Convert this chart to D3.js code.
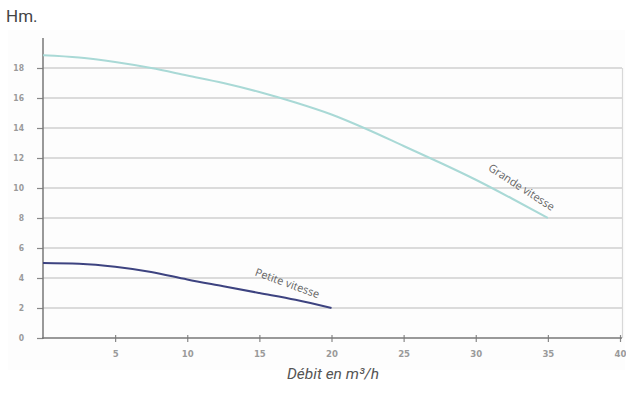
<!DOCTYPE html>
<html><head><meta charset="utf-8">
<script src="https://cdn.jsdelivr.net/npm/d3@7"></script>
<style>body{margin:0;background:#fff}svg{display:block}</style>
</head><body>
<svg id="c" width="626" height="398"></svg>
<script>
const flowGrande = [0, 2.5, 5, 7.5, 10, 12.5, 15, 17.5, 20, 22.5, 25, 27.5, 30, 32.5, 35];
const headGrande = [18.85, 18.7, 18.4, 18.0, 17.5, 17.0, 16.4, 15.7, 14.9, 13.9, 12.8, 11.7, 10.55, 9.3, 8.0];
const flowPetite = [0, 2.5, 5, 7.5, 10, 12.5, 15, 17.5, 20];
const headPetite = [5.0, 4.95, 4.75, 4.4, 3.9, 3.45, 3.0, 2.55, 2.0];
const xTicks = [5, 10, 15, 20, 25, 30, 35, 40];
const yTicks = [0, 2, 4, 6, 8, 10, 12, 14, 16, 18];
const yTitle = "Hm.";
const xTitle = "Débit en m³/h";
const labelGrande = "Grande vitesse";
const labelPetite = "Petite vitesse";

const svg = d3.select("#c");
const x = d3.scaleLinear().domain([0, 40]).range([43, 620]);
const y = d3.scaleLinear().domain([0, 18]).range([338, 68]);

// faint panel
svg.append("rect").attr("x", 8).attr("y", 30).attr("width", 617).attr("height", 340).attr("fill", "#fdfdfd");

// gridlines
svg.append("g").selectAll("line").data(yTicks.filter(d => d > 0)).join("line")
  .attr("x1", x(0)).attr("x2", 622).attr("y1", d => y(d)).attr("y2", d => y(d))
  .attr("stroke", "#cfcfcf").attr("stroke-width", 1.6);
// right border
svg.append("line").attr("x1", 622.5).attr("x2", 622.5).attr("y1", y(18)).attr("y2", y(0))
  .attr("stroke", "#d8d8d8").attr("stroke-width", 1.2);

const tickFont = "'DejaVu Sans Condensed', 'Liberation Sans Narrow', sans-serif";

// y axis
const yAxis = d3.axisLeft(y).tickValues(yTicks).tickSize(6).tickPadding(13).tickFormat(d3.format("d"));
const gy = svg.append("g").attr("transform", `translate(${x(0)},0)`).call(yAxis);
gy.select(".domain").remove();
gy.selectAll(".tick line").attr("stroke", "#888").attr("stroke-width", 1.2);
gy.selectAll("text").attr("fill", "#9a9a9a").style("font-family", tickFont).style("font-size", "8.5px").style("font-weight", "bold");
svg.append("line").attr("x1", x(0)).attr("x2", x(0)).attr("y1", 38).attr("y2", y(0) + 1)
  .attr("stroke", "#777").attr("stroke-width", 1.5);

// x axis
const xAxis = d3.axisBottom(x).tickValues(xTicks).tickSize(4).tickPadding(8).tickFormat(d3.format("d"));
const gx = svg.append("g").attr("transform", `translate(0,${y(0)})`).call(xAxis);
gx.select(".domain").remove();
gx.selectAll(".tick line").attr("stroke", "#888").attr("stroke-width", 1.2).attr("y1", -3);
gx.selectAll("text").attr("fill", "#9a9a9a").style("font-family", tickFont).style("font-size", "9.5px").style("font-weight", "bold");
svg.append("line").attr("x1", x(0) - 1).attr("x2", 622).attr("y1", y(0)).attr("y2", y(0))
  .attr("stroke", "#777").attr("stroke-width", 1.5);

// curves
const line = d3.line().x(d => x(d[0])).y(d => y(d[1])).curve(d3.curveMonotoneX);
svg.append("path").datum(flowGrande.map((f, i) => [f, headGrande[i]]))
  .attr("d", line).attr("fill", "none").attr("stroke", "#a9d9d6").attr("stroke-width", 2);
svg.append("path").datum(flowPetite.map((f, i) => [f, headPetite[i]]))
  .attr("d", line).attr("fill", "none").attr("stroke", "#3d4380").attr("stroke-width", 2);

// curve labels
svg.append("text").attr("transform", "translate(521,188) rotate(33)")
  .attr("text-anchor", "middle").attr("dominant-baseline", "middle")
  .attr("fill", "#666").style("font-family", "'Open Sans', sans-serif").style("font-size", "11px")
  .text(labelGrande);
svg.append("text").attr("transform", "translate(287,284) rotate(20)")
  .attr("text-anchor", "middle").attr("dominant-baseline", "middle")
  .attr("fill", "#666").style("font-family", "'Open Sans', sans-serif").style("font-size", "11px")
  .text(labelPetite);

// titles
svg.append("text").attr("x", 6).attr("y", 22).attr("fill", "#444")
  .style("font-family", "Roboto, 'Open Sans', sans-serif").style("font-size", "17px").text(yTitle);
svg.append("text").attr("x", 333).attr("y", 379).attr("text-anchor", "middle").attr("fill", "#555")
  .style("font-family", "Roboto, 'Open Sans', sans-serif").style("font-size", "15.5px").style("font-style", "italic").text(xTitle);
</script>
</body></html>
